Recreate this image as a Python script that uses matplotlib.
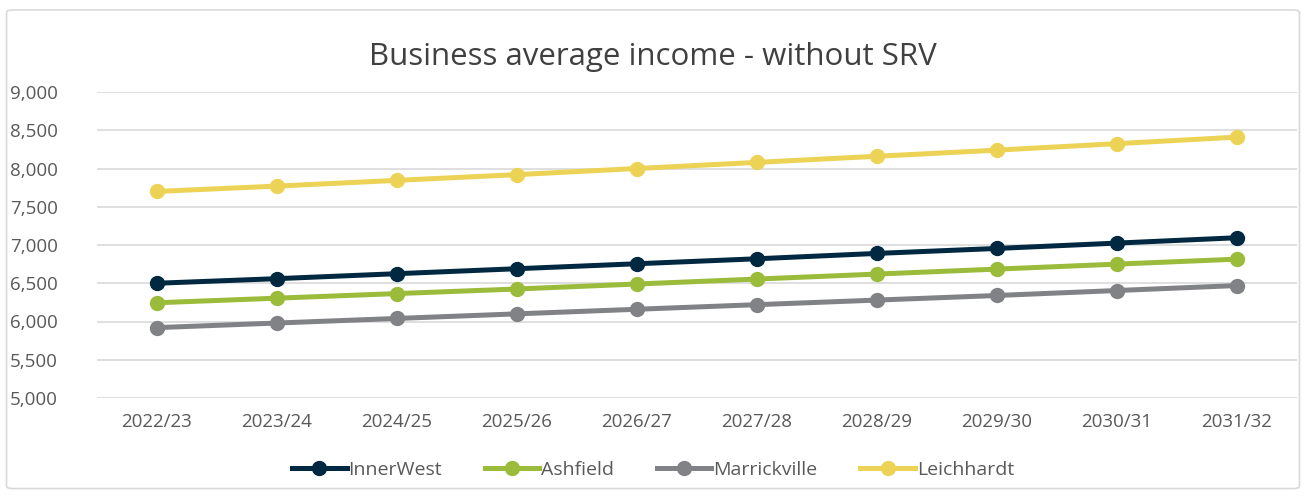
import matplotlib.pyplot as plt
from matplotlib.patches import FancyBboxPatch
from matplotlib.ticker import FuncFormatter

years = ["2022/23", "2023/24", "2024/25", "2025/26", "2026/27",
         "2027/28", "2028/29", "2029/30", "2030/31", "2031/32"]
inner_west = [6500, 6560, 6625, 6690, 6755, 6820, 6890, 6955, 7025, 7095]
ashfield = [6245, 6305, 6365, 6425, 6490, 6555, 6620, 6685, 6750, 6815]
marrickville = [5920, 5980, 6040, 6100, 6160, 6220, 6280, 6340, 6405, 6470]
leichhardt = [7700, 7770, 7845, 7920, 8000, 8080, 8160, 8240, 8325, 8410]

series = [
    ("InnerWest", inner_west, "#002840"),
    ("Ashfield", ashfield, "#9BBB3B"),
    ("Marrickville", marrickville, "#808285"),
    ("Leichhardt", leichhardt, "#EDD355"),
]

plt.rcParams["font.family"] = ["Open Sans", "DejaVu Sans"]

fig = plt.figure(figsize=(13.06, 4.96), dpi=100)
fig.patches.append(FancyBboxPatch((0.005, 0.015), 0.99, 0.965,
                                  boxstyle="round,pad=0,rounding_size=0.005",
                                  transform=fig.transFigure, facecolor="none",
                                  edgecolor="#D9D9D9", linewidth=1.2, zorder=-1))
ax = fig.add_axes([97 / 1306, 98 / 496, 1200 / 1306, 306 / 496])

x = range(len(years))
for name, vals, color in series:
    ax.plot(x, vals, color=color, linewidth=3.6, marker="o", markersize=10, label=name)

ax.set_xlim(-0.5, len(years) - 0.5)
ax.set_ylim(5000, 9000)
ax.set_yticks(range(5000, 9001, 500))
ax.yaxis.set_major_formatter(FuncFormatter(lambda v, p: f"{int(v):,}"))
ax.set_xticks(list(x))
ax.set_xticklabels(years)
ax.grid(axis="y", color="#D9D9D9", linewidth=1.2)
ax.set_axisbelow(True)
for s in ax.spines.values():
    s.set_visible(False)
ax.tick_params(length=0, labelsize=13.5, colors="#595959", pad=11)
ax.tick_params(axis="y", pad=28)

fig.text(0.5, 0.885, "Business average income - without SRV", ha="center", va="center",
         fontsize=22.5, color="#404040")

fig.legend(loc="center", bbox_to_anchor=(0.5, 0.053), ncol=4, frameon=False,
           fontsize=14, labelcolor="#595959", handlelength=2.8, columnspacing=2.2,
           handletextpad=0.1)

fig.savefig("out.png", dpi=100)
